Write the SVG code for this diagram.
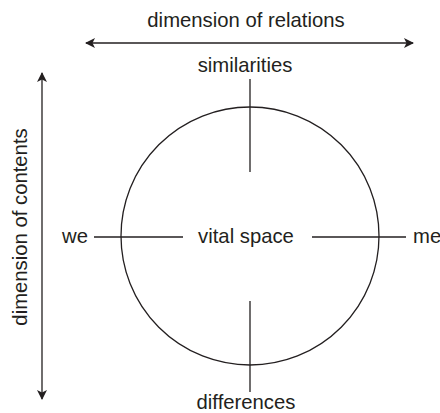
<svg xmlns="http://www.w3.org/2000/svg" width="440" height="413" viewBox="0 0 440 413">
<defs>
<marker id="ah" viewBox="0 0 10 10" refX="9" refY="5" markerWidth="10" markerHeight="10" markerUnits="userSpaceOnUse" orient="auto-start-reverse">
<path d="M0,0 L10,5 L0,10 L2.5,5 Z" fill="#231f20"/>
</marker>
<style>
text{font-family:"Liberation Sans",Arial,sans-serif;font-size:20.3px;fill:#231f20}
.ln{stroke:#231f20;stroke-width:1.3;fill:none}
</style>
</defs>
<rect width="440" height="413" fill="#fff"/>
<g id="connectors">
<line class="ln" x1="86" y1="43" x2="413" y2="43" marker-start="url(#ah)" marker-end="url(#ah)"/>
<line class="ln" x1="42" y1="73" x2="42" y2="399" marker-start="url(#ah)" marker-end="url(#ah)"/>
<line class="ln" x1="250" y1="79" x2="250" y2="172"/>
<line class="ln" x1="250" y1="301" x2="250" y2="392"/>
<line class="ln" x1="94" y1="237" x2="183" y2="237"/>
<line class="ln" x1="312" y1="237" x2="406" y2="237"/>
</g>
<g id="vital-space">
<circle class="ln" cx="250" cy="236" r="129"/>
<text x="246" y="243" text-anchor="middle">vital space</text>
</g>
<g id="relations"><text x="246" y="27" text-anchor="middle">dimension of relations</text></g>
<g id="contents"><text transform="translate(27,227) rotate(-90)" text-anchor="middle">dimension of contents</text></g>
<g id="similarities"><text x="245" y="72" text-anchor="middle">similarities</text></g>
<g id="differences"><text x="246" y="409" text-anchor="middle">differences</text></g>
<g id="we"><text x="75" y="243" text-anchor="middle">we</text></g>
<g id="me"><text x="413" y="243">me</text></g>
</svg>
